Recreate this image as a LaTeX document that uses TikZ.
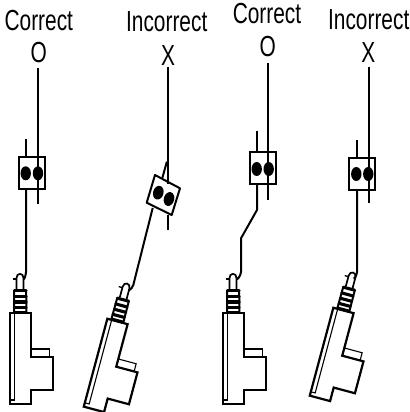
\documentclass[tikz,border=0pt]{standalone}
\usepackage{fontspec}
\setmainfont[FakeStretch=0.72]{Liberation Sans}
\usetikzlibrary{calc}
\tikzset{
  x=1bp,y=-1bp,
  lbl/.style={anchor=base,inner sep=0pt,font=\fontsize{29bp}{31bp}\selectfont},
  wire/.style={draw=black,line width=2bp,line join=round},
  clip box/.style={draw=black,line width=2bp,rectangle,inner sep=0pt,minimum width=26bp,minimum height=32bp},
  dot/.style={fill=black},
  pics/actuator/.style={code={
    \draw[line width=2.2bp,line join=miter,fill=white] (-10,34) -- (11,34) -- (11,78) -- (33,78) -- (33,111) -- (11,111) -- (11,125) -- (-10,125) -- cycle;
    \draw[line width=1.1bp] (-5.5,34) -- (-5.5,121) -- (-10,121);
    \draw[line width=1.1bp] (11,70) -- (29.5,70) -- (29.5,78);
    \draw[line width=1.7bp] (-3.5,10) -- (-3.5,-1) .. controls (-3.5,-6.5) and (3.5,-6.5) .. (3.5,-1) -- (3.5,10);
    \draw[line width=1.3bp] (-7.3,0) -- (-3.5,0);
    \foreach \yy in {11.5,17.5,23,28.3,33.2}{
      \draw[line width=3.1bp,line cap=round] (-5.6,\yy) -- (6,\yy);
    }
    \draw[line width=2bp] (-5.8,11) -- (-6,34);
    \draw[line width=2bp] (6.2,11) -- (6.4,34);
  }}
}
\begin{document}
\begin{tikzpicture}
\useasboundingbox (0,0) rectangle (410,412);
% labels
\node[lbl] (t1) at (38.8,30.6) {Correct};
\node[lbl] (t2) at (166.7,31.6) {Incorrect};
\node[lbl] (t3) at (267,23.8) {Correct};
\node[lbl] (t4) at (368.7,29.8) {Incorrect};
\node[lbl] (m1) at (38.7,62.6) {O};
\node[lbl] (m2) at (168,65) {X};
\node[lbl] (m3) at (267.7,56.6) {O};
\node[lbl] (m4) at (368.3,62.6) {X};
% actuators
\coordinate (e1) at (20,279);
\coordinate (e2) at (125.8,288.5);
\coordinate (e3) at (233,279);
\coordinate (e4) at (351.8,277.5);
\pic at (e1) {actuator};
\pic[rotate=-15] at (e2) {actuator};
\pic at (e3) {actuator};
\pic[rotate=-15] at (e4) {actuator};
% clip 1
\node[clip box] (b1) at (32,173) {};
\coordinate (a1t) at (38,68); \coordinate (a1b) at (38,204);
\coordinate (c1t) at (26,139); \coordinate (c1b) at (26,272);
\draw[wire] (a1t) -- (a1b);
\draw[wire] (c1t) -- (c1t |- b1.north);
\draw[wire] (c1t |- b1.south) -- (c1b) .. controls +(0,3) and +(-0.5,4.5) .. ($(e1)+(4,-1.5)$);
\fill[dot] (25.7,173.3) ellipse (5.2 and 7);
\fill[dot] (38,173.3) ellipse (5.2 and 7);
% clip 3
\node[clip box] (b3) at (263,168) {};
\coordinate (a3t) at (268,63); \coordinate (a3b) at (268,200);
\coordinate (c3t) at (257,131);
\coordinate (k1) at (257,210); \coordinate (k2) at (241,238.3); \coordinate (c3b) at (241,272);
\draw[wire] (a3t) -- (a3b);
\draw[wire] (c3t) -- (c3t |- b3.north);
\draw[wire] (c3t |- b3.south) -- (k1) -- (k2) -- (c3b) .. controls +(0,3) and +(-0.5,4.5) .. ($(e3)+(4,-1.5)$);
\fill[dot] (256.7,169) ellipse (5.2 and 7);
\fill[dot] (268.7,169) ellipse (5.2 and 7);
% clip 4
\node[clip box] (b4) at (362,174) {};
\coordinate (a4t) at (369,67); \coordinate (a4b) at (369,203);
\coordinate (c4t) at (357,140); \coordinate (c4b) at (357,272);
\draw[wire] (a4t) -- (a4b);
\draw[wire] (c4t) -- (c4t |- b4.north);
\draw[wire] (c4t |- b4.south) -- (c4b) .. controls +(0,3) and +(-1,4) .. ($(e4)+(2.5,-0.5)$);
\fill[dot] (356.3,174) ellipse (5.2 and 7);
\fill[dot] (368.3,174) ellipse (5.2 and 7);
% clip 2 (tilted)
\coordinate (q1) at (155,175); \coordinate (q2) at (180,188.3);
\coordinate (q3) at (171.7,215); \coordinate (q4) at (146.7,202.7);
\draw[wire] (168,67) -- (168,184);
\draw[wire] (168,214.5) -- (168,230);
\draw[wire] (162.3,178) -- (166.9,161.7);
\draw[wire] (152.7,208) -- (133.3,285) .. controls (132.5,287) and (131,289.5) .. ($(e2)+(3,2)$);
\draw[wire] (q1) -- (q2) -- (q3) -- (q4) -- cycle;
\fill[dot,rotate around={-15:(158.3,192.7)}] (158.3,192.7) ellipse (5.2 and 7);
\fill[dot,rotate around={-15:(169,199)}] (169,199) ellipse (5.2 and 7);
\end{tikzpicture}
\end{document}
